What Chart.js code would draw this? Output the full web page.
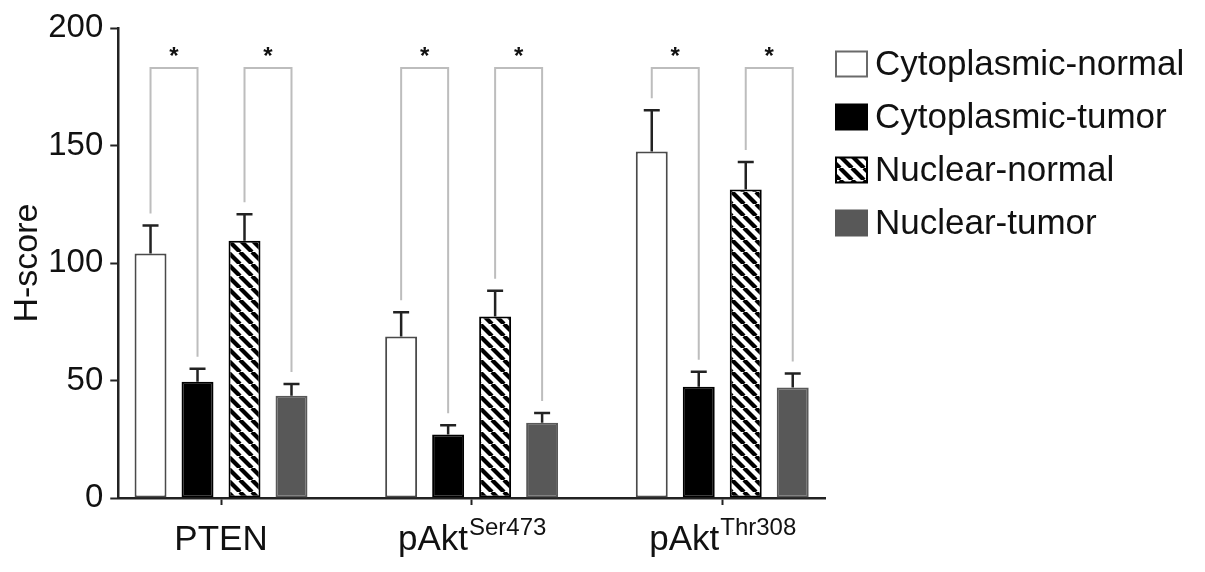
<!DOCTYPE html>
<html><head><meta charset="utf-8">
<script src="https://cdn.jsdelivr.net/npm/chart.js@4.4.1/dist/chart.umd.min.js"></script>
<style>html,body{margin:0;padding:0;background:#fff}#wrap{width:1205px;height:572px;position:relative}</style>
</head><body><div id="wrap"><canvas id="c" width="1205" height="572"></canvas></div>
<script>
// ---- data ----
const categories = ['PTEN', 'pAkt Ser473', 'pAkt Thr308'];
const labelBase = ['PTEN', 'pAkt', 'pAkt'];
const labelSup = ['', 'Ser473', 'Thr308'];
const seriesNames = ['Cytoplasmic-normal', 'Cytoplasmic-tumor', 'Nuclear-normal', 'Nuclear-tumor'];
const cytoNormal = [104, 68.7, 147.5];
const cytoTumor = [49.5, 27, 47.3];
const nuclearNormal = [109.5, 77.2, 131.3];
const nuclearTumor = [43.5, 32, 47];
const cytoNormalErr = [12, 10.3, 17.5];
const cytoTumorErr = [5.5, 4, 6.4];
const nuclearNormalErr = [11.2, 11, 11.7];
const nuclearTumorErr = [5, 4.2, 6];
const yTicks = [0, 50, 100, 150, 200];
const sigPairs = [[0, 1], [2, 3]];
const sigMark = '*';
const bracketLevel = 183;
const starLevel = 187.5;

const FONT = "'Liberation Sans', Arial, Helvetica, sans-serif";
const ctx0 = document.getElementById('c').getContext('2d');

function makeHatch() {
  const s = 12;
  const cv = document.createElement('canvas');
  cv.width = s; cv.height = s;
  const g = cv.getContext('2d');
  g.fillStyle = '#fff'; g.fillRect(0, 0, s, s);
  g.strokeStyle = '#000'; g.lineWidth = 4.2;
  for (const k of [-s, 0, s]) { g.beginPath(); g.moveTo(k, 0); g.lineTo(k + s, s); g.stroke(); }
  return ctx0.createPattern(cv, 'repeat');
}
const hatch = makeHatch();

const values = [cytoNormal, cytoTumor, nuclearNormal, nuclearTumor];
const errors = [cytoNormalErr, cytoTumorErr, nuclearNormalErr, nuclearTumorErr];
const fills = ['#ffffff', '#000000', hatch, '#585858'];
const borders = ['#4a4a4a', '#000000', '#000000', '#585858'];

const datasets = seriesNames.map((name, d) => ({
  label: name,
  data: values[d].map((v, i) => ({ x: i, y: v })),
  backgroundColor: fills[d],
  borderColor: borders[d],
  borderWidth: 2,
  borderSkipped: false,
  categoryPercentage: 0.75,
  barPercentage: 0.68
}));

const extras = {
  id: 'extras',
  afterDatasetsDraw(chart) {
    const c = chart.ctx, y = chart.scales.y;
    // error bars
    c.save();
    c.strokeStyle = '#222'; c.lineWidth = 2.5;
    datasets.forEach((ds, d) => {
      const meta = chart.getDatasetMeta(d);
      meta.data.forEach((el, i) => {
        const top = y.getPixelForValue(values[d][i] + errors[d][i]);
        c.beginPath();
        c.moveTo(el.x, el.y); c.lineTo(el.x, top);
        c.moveTo(el.x - 8, top); c.lineTo(el.x + 8, top);
        c.stroke();
      });
    });
    // significance brackets
    c.strokeStyle = '#bdbdbd'; c.lineWidth = 2;
    c.fillStyle = '#111';
    c.font = 'bold 24px ' + FONT;
    c.textAlign = 'center'; c.textBaseline = 'middle';
    categories.forEach((cat, i) => {
      sigPairs.forEach(([a, b]) => {
        const ea = chart.getDatasetMeta(a).data[i], eb = chart.getDatasetMeta(b).data[i];
        const ya = y.getPixelForValue(values[a][i] + errors[a][i]) - 12;
        const yb = y.getPixelForValue(values[b][i] + errors[b][i]) - 12;
        const yt = y.getPixelForValue(bracketLevel);
        c.beginPath();
        c.moveTo(ea.x, ya); c.lineTo(ea.x, yt); c.lineTo(eb.x, yt); c.lineTo(eb.x, yb);
        c.stroke();
        c.fillText(sigMark, (ea.x + eb.x) / 2, y.getPixelForValue(starLevel));
      });
    });
    c.restore();
  },
  afterDraw(chart) {
    const c = chart.ctx, x = chart.scales.x, area = chart.chartArea;
    c.save();
    c.fillStyle = '#111';
    // category labels with superscripts
    categories.forEach((cat, i) => {
      const cx = x.getPixelForValue(i);
      c.font = '35px ' + FONT;
      const wb = c.measureText(labelBase[i]).width;
      c.font = '24px ' + FONT;
      const ws = labelSup[i] ? c.measureText(labelSup[i]).width : 0;
      const start = cx - (wb + ws) / 2;
      c.textAlign = 'left'; c.textBaseline = 'alphabetic';
      c.font = '35px ' + FONT;
      c.fillText(labelBase[i], start, area.bottom + 52);
      if (labelSup[i]) {
        c.font = '24px ' + FONT;
        c.fillText(labelSup[i], start + wb + 1, area.bottom + 37);
      }
    });
    // legend
    const lx = area.right + 11;
    datasets.forEach((ds, d) => {
      const cy = area.top + 36 + d * 53;
      c.fillStyle = ds.backgroundColor;
      c.fillRect(lx, cy - 12.5, 31, 25);
      c.strokeStyle = d === 0 ? '#6a6a6a' : ds.borderColor;
      c.lineWidth = 2;
      c.strokeRect(lx, cy - 12.5, 31, 25);
      c.fillStyle = '#111';
      c.font = '35px ' + FONT;
      c.textAlign = 'left'; c.textBaseline = 'middle';
      c.fillText(ds.label, lx + 39, cy + 1);
    });
    c.restore();
  }
};

new Chart(ctx0, {
  type: 'bar',
  data: { datasets },
  options: {
    responsive: false,
    animation: false,
    devicePixelRatio: 1,
    layout: { padding: { left: 14, right: 380, top: 28, bottom: 67 } },
    plugins: { legend: { display: false }, tooltip: { enabled: false } },
    scales: {
      x: {
        type: 'linear', min: -0.41, max: 2.41, offset: false,
        ticks: { display: false, stepSize: 1, includeBounds: false },
        afterBuildTicks: s => { s.ticks = categories.map((c, i) => ({ value: i })); },
        grid: { display: true, offset: false, drawOnChartArea: false, drawTicks: true, tickLength: 7, tickWidth: 2, tickColor: '#222', color: '#222' },
        border: { display: true, color: '#222', width: 2.5 }
      },
      y: {
        min: 0, max: 200,
        afterBuildTicks: s => { s.ticks = yTicks.map(v => ({ value: v })); },
        ticks: { font: { family: FONT, size: 33 }, color: '#111', padding: 7 },
        grid: { display: true, drawOnChartArea: false, drawTicks: true, tickLength: 8, tickWidth: 2, tickColor: '#222', color: '#222' },
        border: { display: true, color: '#222', width: 2.5 },
        title: { display: true, text: 'H-score', font: { family: FONT, size: 34, lineHeight: 0.8 }, color: '#111', padding: { top: 0, bottom: 0 } }
      }
    }
  },
  plugins: [extras]
});
</script></body></html>
